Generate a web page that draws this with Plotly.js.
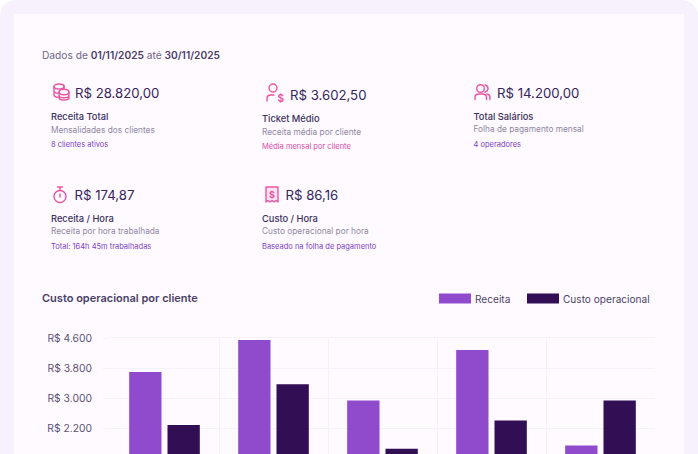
<!DOCTYPE html>
<html><head><meta charset="utf-8">
<script src="https://cdn.plot.ly/plotly-3.0.1.min.js"></script>
<style>
html,body{margin:0;padding:0;background:#fff;width:698px;height:454px;overflow:hidden;font-family:Inter,sans-serif}
#frame{position:absolute;left:0;top:0;width:698px;height:600px;background:#F6F1FD;border-radius:16px}
#card{position:absolute;left:14px;top:14px;width:670px;height:600px;background:#FEFAFF}
#chart{position:absolute;left:0;top:0;width:698px;height:560px}
.t{position:absolute;white-space:nowrap;transform:translateY(-50%);line-height:1}
svg.i{position:absolute;fill:none;stroke:#EA55A3;stroke-width:1.4;stroke-linecap:round;stroke-linejoin:round}
</style></head><body>
<div id="frame"></div><div id="card"></div><div id="chart"></div>
<div id="kpis"></div>
<script>
const categories = ["Cliente 1","Cliente 2","Cliente 3","Cliente 4","Cliente 5"];
const receita = [3700,4550,2950,4280,1760];
const custo = [2300,3380,1670,2420,2950];
const seriesNames = ["Receita","Custo operacional"];
const yTicks = [600,1400,2200,3000,3800,4600];
const chartTitle = "Custo operacional por cliente";
const kpiValues = ["R$ 28.820,00","R$ 3.602,50","R$ 14.200,00","R$ 174,87","R$ 86,16"];
const kpiNames = ["Receita Total","Ticket Médio","Total Salários","Receita / Hora","Custo / Hora"];
const kpiDescs = ["Mensalidades dos clientes","Receita média por cliente","Folha de pagamento mensal","Receita por hora trabalhada","Custo operacional por hora"];
const kpiNotes = ["8 clientes ativos","Média mensal por cliente","4 operadores","Total: 164h 45m trabalhadas","Baseado na folha de pagamento"];

const PURPLE="#8F4BCC", DARK="#320E55", GRID="#F5F1F8";
const place = [
 {x:51,vx:75,vy:94,ny:117,dy:129.5,sy:144.5},
 {x:262,vx:290,vy:96,ny:119,dy:131.5,sy:146.5},
 {x:473.5,vx:497,vy:93.5,ny:117,dy:129,sy:144.5},
 {x:51,vx:74.5,vy:195.5,ny:219,dy:231,sy:246.5},
 {x:262,vx:285.5,vy:195.5,ny:219,dy:231,sy:246.5}
];
const noteColors=["#7B41C4","#DB4BA6","#7B41C4","#7B41C4","#7B41C4"];
const icons=[
 {l:52,t:83,w:18,h:18,p:'<ellipse cx="7" cy="3.5" rx="5" ry="2.5"/><path d="M2 3.5V12q0 2 4 2.3M2 8q0 2 4 2.3"/><path d="M12 2.5v3"/><ellipse cx="12" cy="9" rx="5" ry="2.8"/><path d="M7 9v5.5q0 2.5 5 2.5t5-2.5V9M7 12.5q0 2.3 5 2.3t5-2.3"/>'},
 {l:266,t:83,w:18,h:20,p:'<circle cx="7" cy="5" r="4"/><path d="M1 18v-2.5Q1 12 5 12h3"/><text x="11.5" y="18.5" font-size="10" font-weight="700" font-family="Inter" fill="#EA55A3" stroke="none">$</text>'},
 {l:474,t:84,w:17,h:17,p:'<circle cx="6.5" cy="4.5" r="3.8"/><path d="M1 15.5v-2Q1 10 5 10h3.5q4 0 4 3.5v2M11 1q3 .8 3 3.5T11 8M13 10q3 .6 3 3.5v2"/>'},
 {l:53,t:186,w:14,h:18,p:'<path d="M4.5 1h5M7 1v3"/><circle cx="7" cy="10.5" r="6"/><path d="M7 8v3"/>'},
 {l:265,t:186,w:14,h:17,p:'<path d="M1 1h12v15l-2-1.5-2 1.5-2-1.5-2 1.5-2-1.5-2 1.5z" fill="#FBE3F1"/><text x="7" y="11.5" text-anchor="middle" font-size="9" font-weight="700" font-family="Inter" fill="#EA55A3" stroke="none">$</text>'}
];
let html='<div class="t" style="left:42px;top:55px;font-size:10.2px;color:#6E6585">Dados de <b style="font-weight:600;color:#4A3F66">01/11/2025</b> até <b style="font-weight:600;color:#4A3F66">30/11/2025</b></div>';
kpiValues.forEach((v,i)=>{const p=place[i],c=icons[i];
 html+=`<svg class="i" style="left:${c.l}px;top:${c.t}px" width="${c.w}" height="${c.h}" viewBox="0 0 ${c.w} ${c.h}">${c.p}</svg>`;
 html+=`<div class="t" style="left:${p.vx}px;top:${p.vy}px;font-size:13.2px;color:#34255A">${v}</div>`;
 html+=`<div class="t" style="left:${p.x}px;top:${p.ny}px;font-size:9.3px;font-weight:500;color:#3B2F5C">${kpiNames[i]}</div>`;
 html+=`<div class="t" style="left:${p.x}px;top:${p.dy}px;font-size:8.3px;color:#8F889F">${kpiDescs[i]}</div>`;
 html+=`<div class="t" style="left:${p.x}px;top:${p.sy}px;font-size:7.5px;color:${noteColors[i]}">${kpiNotes[i]}</div>`;
});
document.getElementById('kpis').innerHTML=html;

const W=698,H=560,MT=338,MB=48,PH=H-MT-MB,PW=545;
const barOpts={type:'bar',x:categories};
const traces=[
 Object.assign({},barOpts,{y:receita,name:seriesNames[0],marker:{color:PURPLE,line:{width:0}}}),
 Object.assign({},barOpts,{y:custo,name:seriesNames[1],marker:{color:DARK,line:{width:0}}})
];
const lx=[439,527], lty=298.5;
const layout={
 width:W,height:H,
 margin:{l:110,r:43,t:MT,b:MB},
 paper_bgcolor:'rgba(0,0,0,0)',plot_bgcolor:'rgba(0,0,0,0)',
 separators:',.',
 showlegend:false,
 barmode:'group',bargap:0.297,bargroupgap:0.157,
 font:{family:'Inter, sans-serif',color:'#5B5272',size:10.3},
 title:{text:chartTitle,x:42/W,xanchor:'left',xref:'container',y:1-298/H,yanchor:'middle',yref:'container',font:{size:11,weight:600,color:'#4A3F66',family:'Inter, sans-serif'}},
 xaxis:{type:'category',tickson:'boundaries',showgrid:true,gridcolor:GRID,gridwidth:1,showticklabels:false,ticks:'',showline:true,linecolor:GRID,mirror:true,zeroline:false,fixedrange:true},
 yaxis:{range:[0,4600],tickmode:'array',tickvals:yTicks,ticktext:yTicks.map(v=>'R$ '+v.toLocaleString('de-DE')),showgrid:true,gridcolor:GRID,gridwidth:1,zeroline:false,ticks:'outside',ticklen:6,tickcolor:GRID,ticklabelstandoff:9,tickfont:{size:10.3,color:'#5B5272'},showline:false,fixedrange:true},
 shapes:[0,1].map(i=>({type:'rect',xref:'paper',yref:'paper',
   x0:(lx[i]-110)/PW,x1:(lx[i]+32-110)/PW,
   y0:(H-MB-lty-5)/PH,y1:(H-MB-lty+5)/PH,
   fillcolor:[PURPLE,DARK][i],line:{width:0}})),
 annotations:[0,1].map(i=>({xref:'paper',yref:'paper',showarrow:false,xanchor:'left',yanchor:'middle',
   x:(lx[i]+34-110)/PW,y:(H-MB-lty)/PH,text:seriesNames[i],font:{size:10.1,color:'#4E4468'}}))
};
Plotly.newPlot('chart',traces,layout,{displayModeBar:false,staticPlot:true});
</script></body></html>
